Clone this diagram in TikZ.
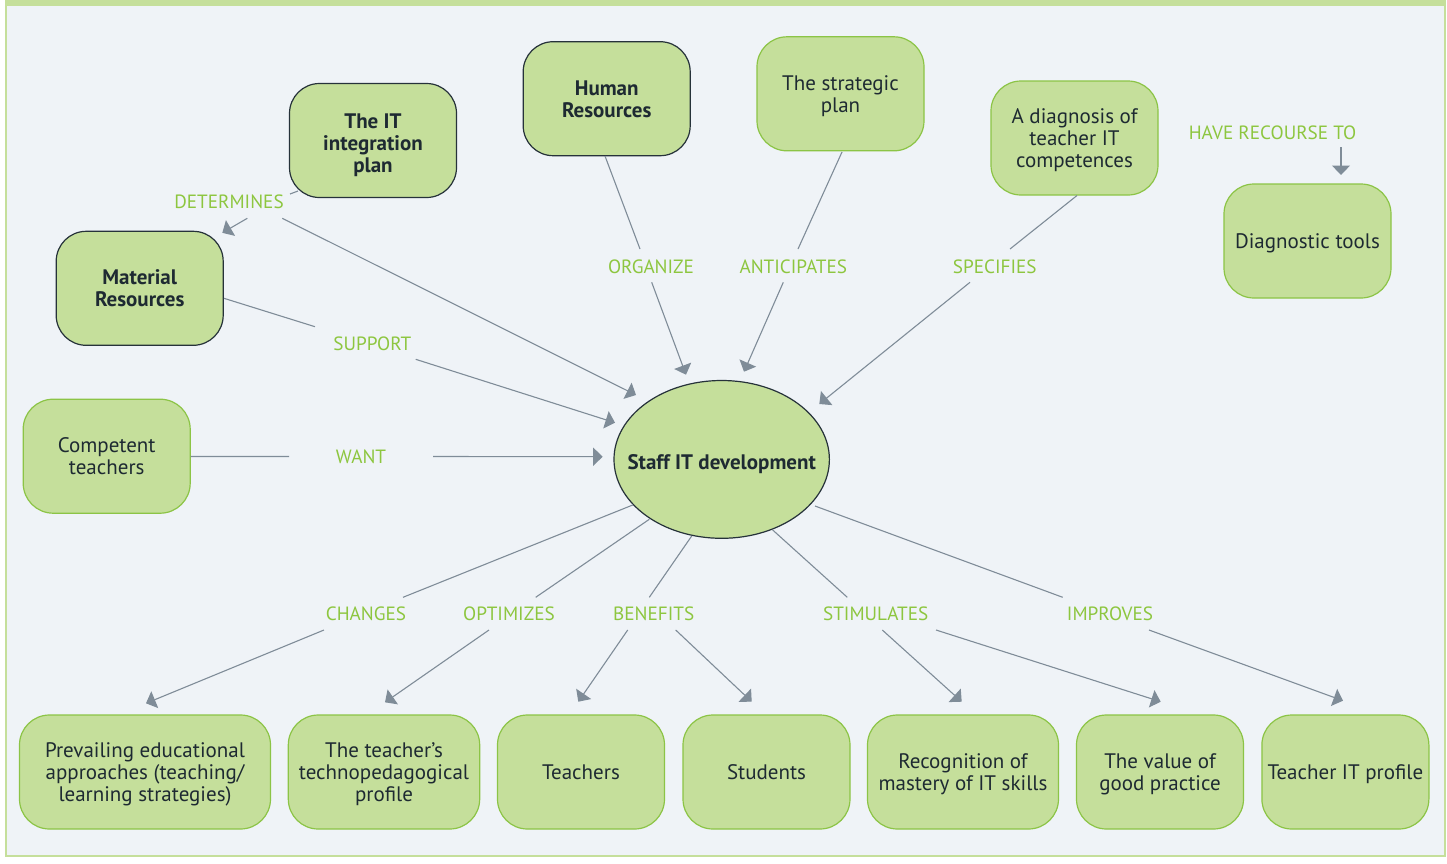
\documentclass[tikz,border=0pt]{standalone}
\usepackage{fontspec}
\setmainfont{PT Sans}
\usetikzlibrary{arrows.meta,shapes.geometric}
\definecolor{bg}{RGB}{239,243,247}
\definecolor{frame}{RGB}{197,223,155}
\definecolor{boxfill}{RGB}{197,223,155}
\definecolor{boxline}{RGB}{140,196,70}
\definecolor{darkline}{RGB}{38,50,58}
\definecolor{txt}{RGB}{30,42,50}
\definecolor{labcol}{RGB}{141,198,63}
\definecolor{conncol}{RGB}{127,140,152}
\begin{document}
\begin{tikzpicture}[x=0.5pt,y=-0.5pt,
  box/.style={rectangle, rounded corners=15pt, fill=boxfill, draw=boxline, line width=0.6pt,
    minimum width=#1, minimum height=57pt, inner sep=0pt, align=center, text=txt,
    text depth=0pt, font=\fontsize{10.5}{11}\selectfont},
  box/.default=83.5pt,
  dbox/.style={box=#1, draw=darkline, font=\fontsize{10.5}{11}\selectfont\bfseries},
  dbox/.default=83.5pt,
  dtext/.style={text=txt, align=center, inner sep=0pt, font=\fontsize{10.5}{11}\selectfont\bfseries},
  lab/.style={text=labcol, font=\fontsize{9.6}{10}\selectfont, inner sep=0pt},
  conn/.style={draw=conncol, line width=0.55pt},
  arr/.style={conn, -{Triangle[length=4.75pt,width=9pt]}}
]
\useasboundingbox (0,0) rectangle (1447,863);
\fill[white] (0,0) rectangle (1447,863);
\fill[bg] (6,5) rectangle (1445,856);
\draw[frame, line width=1pt] (6,5) rectangle (1445,856);
\fill[frame] (5,0) rectangle (1446,6);

% concepts
\node[dbox, label={[dtext, yshift=-2.5pt]center:The IT\\integration\\plan}] (itp) at (373,140.5) {};
\node[dbox] (hr) at (606.7,98.7) {Human\\Resources};
\node[box] (strat) at (840.5,93.8) {The strategic\\plan};
\node[box] (diag) at (1074.5,138) {A diagnosis of\\teacher IT\\competences};
\node[box] (dtools) at (1307.5,241) {Diagnostic tools};
\node[dbox] (mat) at (139.7,288.3) {Material\\Resources};
\node[box] (comp) at (106.7,456.2) {Competent\\teachers};
\node[ellipse, minimum width=107.7pt, minimum height=78.9pt, inner sep=0pt, fill=boxfill,
  draw=darkline, line width=0.6pt,
  label={[dtext, yshift=-2.2pt]center:Staff IT development}]
  (staff) at (721.7,459.4) {};
\node[box=125.5pt] (prev) at (145,772) {Prevailing educational\\approaches (teaching/\\learning strategies)};
\node[box=95.7pt] (tpp) at (384,772) {The teacher’s\\technopedagogical\\profile};
\node[box] (teach) at (581,772) {Teachers};
\node[box] (stud) at (766.5,772) {Students};
\node[box=95.5pt] (recog) at (963,772) {Recognition of\\mastery of IT skills};
\node[box] (value) at (1160,772) {The value of\\good practice};
\node[box] (tprof) at (1345.4,772) {Teacher IT profile};

% linking phrases
\node[lab] (ldet) at (229,201.5) {DETERMINES};
\node[lab] (lorg) at (651,266.7) {ORGANIZE};
\node[lab] (lant) at (793.3,266.7) {ANTICIPATES};
\node[lab] (lspe) at (994.8,266.7) {SPECIFIES};
\node[lab] (lhav) at (1272.5,132.5) {HAVE RECOURSE TO};
\node[lab] (lsup) at (372.3,343.7) {SUPPORT};
\node[lab] (lwan) at (361,457) {WANT};
\node[lab] (lch) at (366,613.7) {CHANGES};
\node[lab] (lopt) at (509,613.7) {OPTIMIZES};
\node[lab] (lben) at (653.7,613.7) {BENEFITS};
\node[lab] (lsti) at (875.7,613.7) {STIMULATES};
\node[lab] (limp) at (1110,613.7) {IMPROVES};

% connectors
\draw[conn] ([shift={(-75,50.5)}]itp.center) -- ([shift={(61,-7.5)}]ldet.center);
\draw[arr] ([shift={(18.3,16.8)}]ldet.center) -- ([shift={(82.6,-55.5)}]mat.center);
\draw[arr] ([shift={(53.3,16.8)}]ldet.center) -- ([shift={(-85.7,-64.4)}]staff.center);
\draw[conn] ([shift={(84.3,10)}]mat.center) -- ([shift={(-57.3,-17)}]lsup.center);
\draw[arr] ([shift={(43.4,15.6)}]lsup.center) -- ([shift={(-106.7,-36.7)}]staff.center);
\draw[conn] ([shift={(84,0.3)}]comp.center) -- ([shift={(-72,-0.5)}]lwan.center);
\draw[arr] ([shift={(72,-0.5)}]lwan.center) -- ([shift={(-119,-2.7)}]staff.center);
\draw[conn] ([shift={(-1.7,57.3)}]hr.center) -- ([shift={(-11,-17.7)}]lorg.center);
\draw[arr] ([shift={(0.7,15.6)}]lorg.center) -- ([shift={(-35.7,-84.7)}]staff.center);
\draw[conn] ([shift={(1.5,58.2)}]strat.center) -- ([shift={(4.7,-17.7)}]lant.center);
\draw[arr] ([shift={(-10,15.6)}]lant.center) -- ([shift={(22.3,-87.7)}]staff.center);
\draw[conn] ([shift={(2.5,57.5)}]diag.center) -- ([shift={(15.2,-17.7)}]lspe.center);
\draw[arr] ([shift={(-24.8,15.6)}]lspe.center) -- ([shift={(97.6,-55.4)}]staff.center);
\draw[arr] ([shift={(68.5,14.5)}]lhav.center) -- ([shift={(33.5,-66)}]dtools.center);
\draw[conn] ([shift={(-89,45.6)}]staff.center) -- ([shift={(37,-16.4)}]lch.center);
\draw[arr] ([shift={(-42,16.3)}]lch.center) -- ([shift={(1,-68.7)}]prev.center);
\draw[conn] ([shift={(-72.4,59.9)}]staff.center) -- ([shift={(26.7,-16.4)}]lopt.center);
\draw[arr] ([shift={(-20,16.3)}]lopt.center) -- ([shift={(1,-69.7)}]tpp.center);
\draw[conn] ([shift={(-30,76.6)}]staff.center) -- ([shift={(-4.4,-16.4)}]lben.center);
\draw[arr] ([shift={(-26,16.3)}]lben.center) -- ([shift={(-2.7,-70.3)}]teach.center);
\draw[arr] ([shift={(22,16.3)}]lben.center) -- ([shift={(-14.8,-70.3)}]stud.center);
\draw[conn] ([shift={(51,70.6)}]staff.center) -- ([shift={(-28.4,-16.4)}]lsti.center);
\draw[arr] ([shift={(6.6,16.3)}]lsti.center) -- ([shift={(-1.3,-70.3)}]recog.center);
\draw[arr] ([shift={(60.3,16.3)}]lsti.center) -- ([shift={(0.7,-70.3)}]value.center);
\draw[conn] ([shift={(93.3,46.6)}]staff.center) -- ([shift={(-47.3,-16.4)}]limp.center);
\draw[arr] ([shift={(39,16.3)}]limp.center) -- ([shift={(-2.4,-71.3)}]tprof.center);
\end{tikzpicture}
\end{document}
